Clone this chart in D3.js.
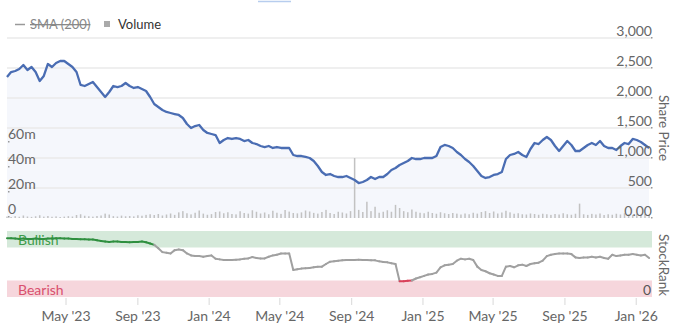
<!DOCTYPE html>
<html><head><meta charset="utf-8">
<script src="https://cdn.jsdelivr.net/npm/d3@7"></script>
<style>
html,body{margin:0;padding:0;background:#fff;}
svg{display:block;font-family:Lato,"Open Sans",sans-serif;}
</style></head>
<body><svg id="c" width="673" height="329"></svg>
<script>
// ---- data (weekly samples starting 2023-01-20) ----
const startDate = "2023-01-20";
const endDate = "2026-01-28";
const price = [2350,2433,2450,2483,2550,2467,2517,2433,2283,2367,2567,2517,2583,2617,2617,2567,2517,2433,2217,2200,
2233,2267,2183,2100,2017,2100,2200,2183,2200,2250,2200,2167,2183,2150,2117,2017,1900,1850,1800,1767,
1750,1733,1717,1667,1567,1500,1533,1550,1467,1417,1400,1383,1250,1300,1333,1317,1333,1317,1283,1300,
1250,1233,1200,1183,1200,1167,1183,1167,1167,1167,1050,1033,1033,1017,1000,950,867,767,717,733,
700,683,683,700,667,633,583,600,633,683,650,683,683,733,800,833,883,917,950,1000,
983,983,1000,1000,1000,1033,1183,1217,1200,1167,1100,1050,983,933,867,783,700,667,683,717,
733,767,983,1050,1067,1100,1050,1017,1150,1250,1233,1300,1350,1300,1200,1117,1200,1283,1217,1117,
1117,1167,1217,1250,1217,1283,1200,1167,1167,1133,1200,1250,1233,1317,1300,1267,1217,1167];
const volume = [1.2,0.8,1.5,1.0,2.0,1.2,0.9,1.4,2.2,1.1,1.6,1.0,1.3,0.8,1.1,1.5,1.2,2.4,3.0,1.8,
1.4,1.1,1.6,2.0,3.5,2.8,1.5,1.2,1.9,1.4,1.6,1.3,2.2,1.8,2.5,3.0,2.4,3.2,2.0,2.8,
3.6,2.5,4.5,5.5,3.8,2.9,4.2,6.0,3.5,2.6,3.1,4.8,5.2,3.8,4.6,3.2,2.9,5.4,4.0,3.5,
6.2,5.0,3.6,4.4,3.0,5.8,4.2,3.3,6.4,5.1,4.0,3.7,4.5,6.0,5.2,4.1,3.5,4.8,6.5,4.0,
3.2,5.0,4.4,3.6,5.5,48.0,6.5,4.8,13.0,5.5,9.0,4.2,5.0,6.2,5.0,10.5,8.0,5.5,4.6,6.8,
5.0,4.2,3.8,5.0,4.0,3.4,4.6,3.8,3.2,4.0,3.5,2.8,3.6,3.0,4.2,3.5,4.8,5.5,4.0,5.2,
3.6,4.4,5.8,4.5,3.4,3.8,3.0,2.8,3.6,3.2,2.6,3.4,3.0,2.5,3.2,2.8,3.8,3.0,2.6,3.4,
11.5,3.0,2.5,3.3,2.8,3.6,2.4,3.0,2.6,3.4,2.8,3.8,3.0,2.5,3.4,2.7,3.2,2.4];
const stockRank = [89,89,88.5,88,88.5,88,88,88.5,88,88,88.5,88.5,89,89,88.5,88.5,88,88,87.5,87.5,
87,87,86,85,84,83.5,84,84,83.5,83.5,83,83.5,83.5,84,83,81,79,74,68,67,
66,71,72,71,66,63,62,62,61,62,63,58,57,56,56,56,56.5,57,58,58.5,
60.5,59,58.5,58.5,61,63,64,66,66,66,41,42,43,43.5,44,45,46,46,50,53.5,
54,55,55.5,56,56,56,56.5,56,56,55.5,55.5,54,53,52.5,51,50,24,24,24.5,25,
28,30,32,34,35,37,45,48,49,50,55,58,57,58,56,46,41,39,36,34,
32,32,46,47,45,48,49,47,50,51,52,55,62,64,65,66,66,66,65,60,
59,60,60,61,60,61,59,58,64,62,63,64,64,65,64,63,64,59];
const priceTicks = [0,500,1000,1500,2000,2500,3000];
const priceTickLabels = ["0.00","500","1,000","1,500","2,000","2,500","3,000"];
const volTicks = [0,20,40,60];
const volTickLabels = ["0","20m","40m","60m"];
const monthTicks = ["2023-05-01","2023-09-01","2024-01-01","2024-05-01","2024-09-01","2025-01-01","2025-05-01","2025-09-01","2026-01-01"];
const monthLabels = ["May '23","Sep '23","Jan '24","May '24","Sep '24","Jan '25","May '25","Sep '25","Jan '26"];
const bands = [{name:"Bullish",lo:75,hi:100},{name:"Bearish",lo:0,hi:25}];

// ---- layout ----
const svg = d3.select("#c");
const L = 7, R = 652;
const parse = d3.utcParse("%Y-%m-%d");
const t0 = parse(startDate);
const dates = price.map((_, i) => d3.utcDay.offset(t0, i * 7));
const x = d3.scaleUtc().domain([t0, parse(endDate)]).range([L, R]);
const yP = d3.scaleLinear().domain([0, 3000]).range([218, 38]);
const yV = d3.scaleLinear().domain([0, 144]).range([218, 38]);
const yR = d3.scaleLinear().domain([0, 100]).range([297, 231]);
const textCol = "#666";

// top small selector mark
svg.append("line").attr("x1",258).attr("x2",291).attr("y1",1.5).attr("y2",1.5)
  .attr("stroke","#b7cdee").attr("stroke-width",1.5);

// legend
const lg = svg.append("g");
lg.append("line").attr("x1",15).attr("x2",25).attr("y1",24.5).attr("y2",24.5).attr("stroke","#999").attr("stroke-width",1.5);
lg.append("text").attr("x",30).attr("y",29).attr("font-size",13).attr("fill","#888")
  .attr("text-decoration","line-through").text("SMA (200)");
lg.append("rect").attr("x",104).attr("y",21).attr("width",6).attr("height",6).attr("fill","#aaa");
lg.append("text").attr("x",118).attr("y",29).attr("font-size",13).attr("fill","#333").text("Volume");

// area under price
svg.append("path").datum(price)
  .attr("d", d3.area().x((d,i)=>x(dates[i])).y0(yP(0)).y1(d=>yP(d)))
  .attr("fill","#f5f7fc");

// gridlines
svg.append("g").selectAll("line").data(priceTicks.filter(d=>d>0)).join("line")
  .attr("x1",L).attr("x2",R).attr("y1",d=>yP(d)).attr("y2",d=>yP(d))
  .attr("stroke","#eaeaea").attr("stroke-width",1.5);

// volume bars
svg.append("g").selectAll("rect").data(volume).join("rect")
  .attr("x",(d,i)=>x(dates[i])-0.75).attr("width",1.5)
  .attr("y",d=>yV(d)).attr("height",d=>yV(0)-yV(d))
  .attr("fill","#c2c2c2");

// price line
svg.append("path").datum(price)
  .attr("d", d3.line().x((d,i)=>x(dates[i])).y(d=>yP(d)))
  .attr("fill","none").attr("stroke","#4a6db3").attr("stroke-width",2.3).attr("stroke-linejoin","round");

// right price axis labels
svg.append("g").selectAll("text").data(priceTicks).join("text")
  .attr("x",R).attr("y",d=>yP(d)-2).attr("text-anchor","end")
  .attr("font-size",14).attr("fill",textCol).text((d,i)=>priceTickLabels[i]);
svg.append("g").selectAll("rect").data(priceTicks).join("rect")
  .attr("x",R-1).attr("y",d=>yP(d)-1).attr("width",1.5).attr("height",1.5).attr("fill","#999");

// left volume axis labels
svg.append("g").selectAll("text").data(volTicks).join("text")
  .attr("x",8).attr("y",d=>yV(d)-4).attr("font-size",14).attr("fill",textCol)
  .text((d,i)=>volTickLabels[i]);
svg.append("g").selectAll("rect").data(volTicks).join("rect")
  .attr("x",8).attr("y",d=>yV(d)-2).attr("width",1.5).attr("height",1.5).attr("fill","#999");

// axis titles
svg.append("text").attr("transform","translate(659,128) rotate(90)").attr("text-anchor","middle")
  .attr("font-size",13.5).attr("fill",textCol).text("Share Price");
svg.append("text").attr("transform","translate(659,265) rotate(90)").attr("text-anchor","middle")
  .attr("font-size",13.5).attr("fill",textCol).text("StockRank");

// stockrank bands
svg.append("g").selectAll("rect").data(bands).join("rect")
  .attr("x",L).attr("width",R-L).attr("y",d=>yR(d.hi)).attr("height",d=>yR(d.lo)-yR(d.hi))
  .attr("fill",d=>d.name==="Bullish"?"#d5e9da":"#f6d6dc");
svg.append("text").attr("x",18).attr("y",yR(75)-3).attr("font-size",14).attr("fill","#3d9c4c").text("Bullish");
svg.append("text").attr("x",18).attr("y",yR(0)-2).attr("font-size",14).attr("fill","#d9506e").text("Bearish");
svg.append("text").attr("x",R-1).attr("y",yR(0)-2).attr("text-anchor","end").attr("font-size",14).attr("fill","#555").text("0");

// stockrank line segments
const segs = d3.pairs(stockRank.map((v,i)=>({v,i})));
svg.append("g").selectAll("line").data(segs).join("line")
  .attr("x1",d=>x(dates[d[0].i])).attr("y1",d=>yR(d[0].v))
  .attr("x2",d=>x(dates[d[1].i])).attr("y2",d=>yR(d[1].v))
  .attr("stroke",d=> (d[0].v>=75&&d[1].v>=75) ? "#2f8f3f" : (d[0].v<=25&&d[1].v<=25) ? "#d9415a" : "#a0a0a0")
  .attr("stroke-width",2).attr("stroke-linecap","round");

// x axis
const xg = svg.append("g");
xg.selectAll("line").data(monthTicks).join("line")
  .attr("x1",d=>x(parse(d))).attr("x2",d=>x(parse(d))).attr("y1",298).attr("y2",305)
  .attr("stroke","#d8d8d8");
xg.selectAll("text").data(monthTicks).join("text")
  .attr("x",d=>x(parse(d))).attr("y",321).attr("text-anchor","middle")
  .attr("font-size",14).attr("fill",textCol).text((d,i)=>monthLabels[i]);
</script></body></html>
